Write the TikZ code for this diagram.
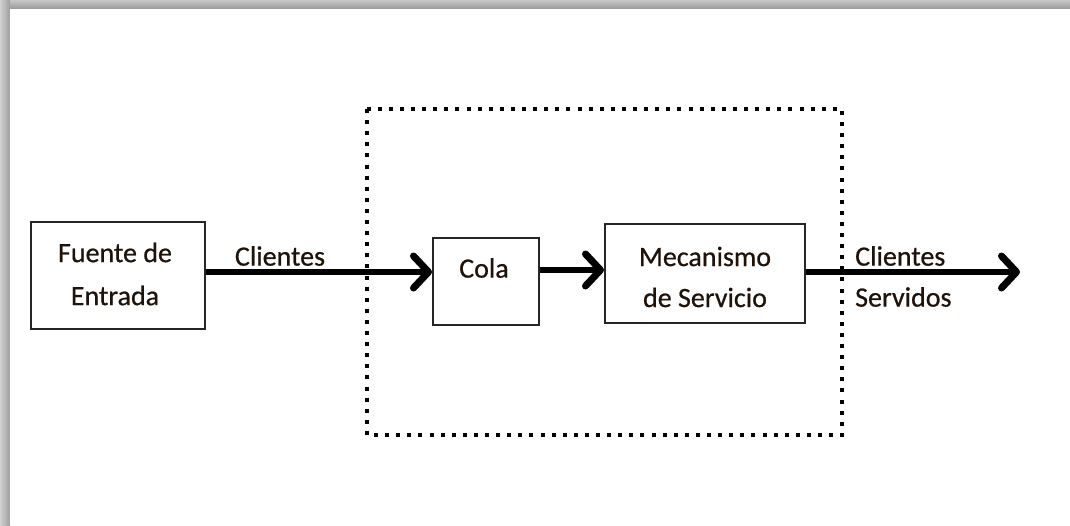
\documentclass[tikz,border=0pt]{standalone}
\usepackage{fontspec}
\setmainfont{Carlito}
\newfontfamily\lblfont{Carlito}[FakeBold=0.6]
\usetikzlibrary{arrows.meta}
\begin{document}
\begin{tikzpicture}[x=1pt,y=-1pt,
  blockbox/.style={draw=black!85,line width=2pt,inner sep=0pt},
  lbl/.style={font=\lblfont\fontsize{28}{34}\selectfont,text=black!85!brown,inner sep=0pt},
  flow/.style={line width=5.5pt,-{Straight Barb[length=15pt,width=32pt,line width=7pt,round]}},
  dotbox/.style={draw=black,line width=4.5pt,dash pattern=on 4pt off 7.1pt}]
\useasboundingbox (0,0) rectangle (1070,525);
\fill[white] (0,0) rectangle (1070,525);
\shade[top color=black!22,bottom color=black!40] (0,0) rectangle (1070,9);
\shade[left color=black!18,right color=black!38] (0,0) rectangle (10,525);
\fill[white] (10,9) rectangle (1070,525);
% dotted system box
\draw[dotbox] (367,109) rectangle (842,435);
% blocks
\node[blockbox,minimum width=174pt,minimum height=107pt] (fuente) at (117.5,275) {};
\node[lbl,align=center] (fuentet) at (115,274) {Fuente de\\[9pt]Entrada};
\node[blockbox,minimum width=106pt,minimum height=87pt] (cola) at (486,281.5) {};
\node[lbl] (colat) at (484,268) {Cola};
\node[blockbox,minimum width=200pt,minimum height=99pt] (mec) at (705,273.5) {};
\node[lbl,align=center] (mect) at (705,277) {Mecanismo\\[7pt]de Servicio};
\coordinate (out) at (1020,272);
% arrows
\draw[flow] (fuente.east |- 0,272) -- (cola.west |- 0,272);
\draw[flow] (cola.east |- 0,270) -- (mec.west |- 0,270);
\draw[flow] (mec.east |- 0,272) -- (out);
% labels
\node[lbl] (cli) at (280,256) {Clientes};
\node[lbl,anchor=west] (cli2) at (855,256) {Clientes};
\node[lbl,anchor=west] (serv) at (855,297) {Servidos};
\end{tikzpicture}
\end{document}
